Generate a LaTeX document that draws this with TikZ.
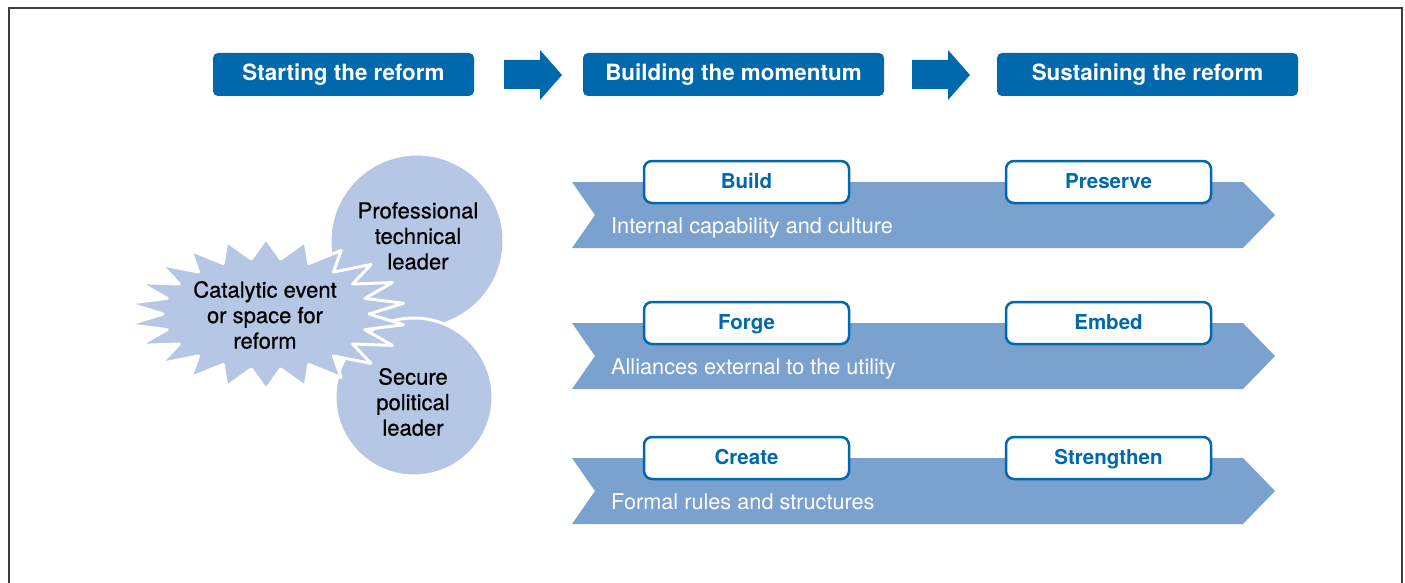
\documentclass[tikz,border=0pt]{standalone}
\usepackage{fontspec}
\setmainfont{TeX Gyre Heros}
\newfontfamily\blobfont[FakeBold=0.6]{TeX Gyre Heros}
\definecolor{hdrblue}{RGB}{0,104,172}
\definecolor{chevblue}{RGB}{123,161,207}
\definecolor{paleblue}{RGB}{181,199,228}
\definecolor{framegray}{RGB}{60,60,60}
\tikzset{
  frameline/.style={draw=framegray, line width=1.2pt},
  hdrbox/.style={fill=hdrblue, rounded corners=5pt, text=white, inner sep=0pt,
    minimum width=301pt, minimum height=43pt, text height=16pt, text depth=4.5pt,
    font=\fontsize{22.4}{25}\selectfont\bfseries},
  hdrarrow/.style={fill=hdrblue},
  chevron/.style={fill=chevblue},
  chevtext/.style={text=white, anchor=base west, inner sep=0pt,
    font=\fontsize{21.7}{25}\selectfont},
  stagebox/.style={draw=hdrblue, line width=2.5pt, fill=white, rounded corners=8pt,
    text=hdrblue, inner sep=0pt, minimum width=205pt, minimum height=42pt,
    text height=16pt, text depth=3pt,
    font=\fontsize{20.5}{25}\selectfont\bfseries},
  leadercircle/.style={circle, fill=paleblue, draw=white, line width=3pt, inner sep=0pt},
  blobtext/.style={align=center, inner sep=0pt, text=black,
    font=\blobfont\fontsize{22}{25.5}\selectfont},
  burst/.style={fill=paleblue, draw=white, line width=3pt, line join=round}
}
\begin{document}
\begin{tikzpicture}[x=1pt,y=-1pt]
\useasboundingbox (0,0) rectangle (1405,583);
% open frame
\draw[frameline] (9,583) -- (9,8) -- (1402,8) -- (1402,583);

% phase headers
\node[hdrbox, minimum width=261pt] (start) at (343.5,74.5) {Starting the reform};
\node[hdrbox] (momentum) at (733.5,74.5) {Building the momentum};
\node[hdrbox] (sustain) at (1147.5,74.5) {Sustaining the reform};
\fill[hdrarrow] (504,60) -- (540,60) -- (540,50) -- (562,75) -- (540,100) -- (540,89) -- (504,89) -- cycle;
\fill[hdrarrow] (912,60) -- (948,60) -- (948,50) -- (970,75) -- (948,100) -- (948,89) -- (912,89) -- cycle;

% three tracks
\foreach \top/\lab/\first/\second/\nm in {
    182/{Internal capability and culture}/Build/Preserve/a,
    323/{Alliances external to the utility}/Forge/Embed/b,
    458/{Formal rules and structures}/Create/Strengthen/c} {
  \fill[chevron] (572,\top) -- (1243,\top) -- (1275,\top+33) -- (1243,\top+66)
    -- (572,\top+66) -- (595,\top+33) -- cycle;
  \node[chevtext] (lab\nm) at (611,\top+51) {\lab};
  \node[stagebox] (first\nm) at (746.5,\top) {\first};
  \node[stagebox] (second\nm) at (1108.5,\top) {\second};
}

% leaders and catalytic event
\node[leadercircle, minimum size=174pt] (techcirc) at (417,241) {};
\node[leadercircle, minimum size=158pt] (polcirc) at (414,397) {};
\filldraw[burst] plot[samples at={0,...,43}, variable=\t]
  ({266+(121-18*cos(180*\t))*cos(8.1818*\t)},
   {314-(65.5-10*cos(180*\t))*sin(8.1818*\t)}) -- cycle;
\node[blobtext] (techtext) at (418,236) {Professional\\technical\\leader};
\node[blobtext] (poltext) at (413,402) {Secure\\political\\leader};
\node[blobtext] (bursttext) at (265,315) {Catalytic event\\or space for\\reform};
\end{tikzpicture}
\end{document}
